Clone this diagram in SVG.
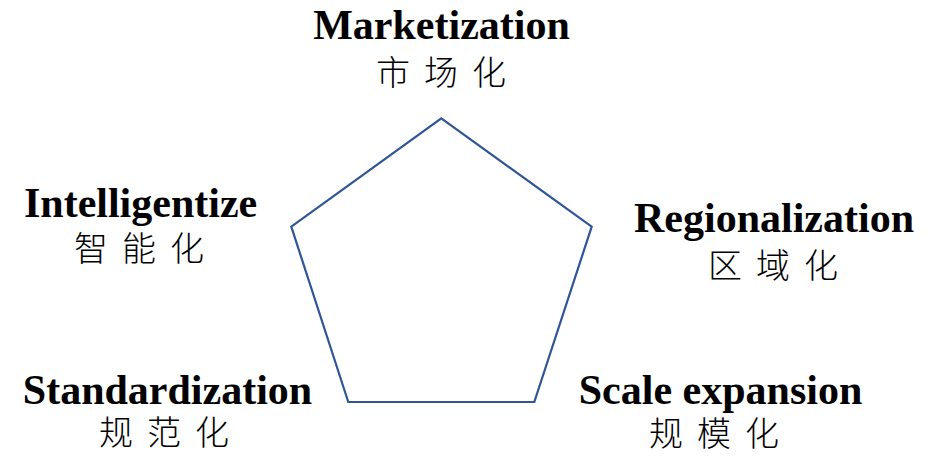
<svg xmlns="http://www.w3.org/2000/svg" width="935" height="459" viewBox="0 0 935 459">
<style>
.en{font-family:"Liberation Serif","Times New Roman",serif;font-weight:bold;font-size:42px;fill:#000;text-anchor:middle}
.zh{font-family:"Liberation Serif","Noto Sans CJK SC",sans-serif;font-weight:300;font-size:34px;fill:#000;letter-spacing:14px}
.shape{fill:#fff;stroke:#2F5597;stroke-width:2.2;stroke-linejoin:miter}
</style>
<rect width="935" height="459" fill="#fff"/>
<g id="pentagon">
<polygon class="shape" points="441.3,118.3 591.7,226.7 534.3,402 348.3,402 291.3,226.7"/>
</g>
<g id="marketization">
<text class="en" x="441.5" y="39">Marketization</text>
<text class="zh" x="376" y="85">市场化</text>
</g>
<g id="intelligentize">
<text class="en" x="140.6" y="217">Intelligentize</text>
<text class="zh" x="74" y="261">智能化</text>
</g>
<g id="regionalization">
<text class="en" x="774" y="232">Regionalization</text>
<text class="zh" x="708" y="278">区域化</text>
</g>
<g id="standardization">
<text class="en" x="167.5" y="404">Standardization</text>
<text class="zh" x="99" y="445">规范化</text>
</g>
<g id="scale-expansion">
<text class="en" x="720.5" y="404">Scale expansion</text>
<text class="zh" x="649" y="446">规模化</text>
</g>
</svg>
